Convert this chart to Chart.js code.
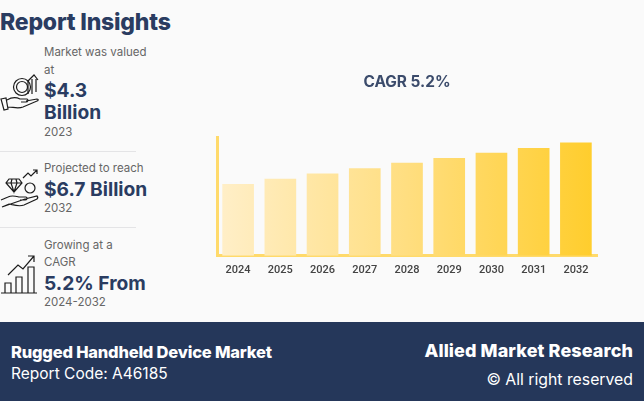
<!DOCTYPE html>
<html>
<head>
<meta charset="utf-8">
<script src="https://cdn.jsdelivr.net/npm/chart.js@4"></script>
<style>
  html, body { margin: 0; padding: 0; background: #fafafa; }
  #page { position: relative; width: 644px; height: 401px; overflow: hidden; font-family: Inter, sans-serif; }
  #page canvas, #icons { position: absolute; left: 0; top: 0; }
  .t { position: absolute; white-space: nowrap; transform: translateY(-50%); line-height: 1; }
  .small { left: 44px; font-size: 11.5px; color: #666; }
  .big { left: 44px; font-size: 19.2px; font-weight: 700; color: #2a3c61; }
  .rule { position: absolute; left: 0; width: 136px; height: 1px; background: #e4e4e6; }
  #footer { position: absolute; left: 0; top: 322px; width: 644px; height: 79px; background: #25375a; }
  .f { color: #fff; }
</style>
</head>
<body>
<div id="page">
  <div class="t" style="left:0;top:22px;font-size:23px;font-weight:800;letter-spacing:-0.2px;color:#2a3c61">Report Insights</div>

  <div class="t small" style="top:53px">Market was valued</div>
  <div class="t small" style="top:71px">at</div>
  <div class="t big" style="top:91px">$4.3</div>
  <div class="t big" style="top:113px">Billion</div>
  <div class="t small" style="top:133px">2023</div>
  <div class="rule" style="top:151px"></div>

  <div class="t small" style="top:169px">Projected to reach</div>
  <div class="t big" style="top:190px">$6.7 Billion</div>
  <div class="t small" style="top:209px">2032</div>
  <div class="rule" style="top:227px"></div>

  <div class="t small" style="top:246px">Growing at a</div>
  <div class="t small" style="top:263px">CAGR</div>
  <div class="t big" style="top:284px">5.2% From</div>
  <div class="t small" style="top:303px">2024-2032</div>

  <svg id="icons" width="644" height="401" fill="none" stroke="#1c1c1c" stroke-width="1.2">
    <!-- hand + coin -->
    <circle cx="22" cy="87" r="8.5"/><circle cx="22" cy="87" r="5.5"/>
    <path d="M28 94V80M32 94V79M36 92V79M28 81l6-6 4 5"/>
    <path d="M1 99l5-1 2 11-4 1zM7 100c5-3 9-3 13-1h7c2 1 1 3-1 3h-5M26 101l11-2c2 0 1 2 0 2l-14 6c-5 2-10 0-15 0"/>
    <!-- hand + diamond -->
    <path d="M9 179h10l3 4-8 9-8-9zM6 183h16M12 179l-1 4 3 9 3-9-1-4"/>
    <circle cx="30" cy="188" r="5"/>
    <path d="M23 178l5-5 3 3 6-6M33 170h4v4"/>
    <path d="M1 200l7-3c4-2 7-1 11 0h7c2 1 1 3-1 3h-5M25 199l12-3c1 1 1 2 0 3l-13 6c-5 2-10 0-15-1l-7 3z"/>
    <!-- bars + arrow -->
    <path d="M1 293h36M5 293v-10h6v10M16 293v-16h6v16M28 293v-26h6v26"/>
    <path d="M8 275l10-10 5 4 11-13M28 256h6v6"/>
  </svg>

  <div id="footer"></div>
  <div class="t f" style="left:11px;top:352px;font-size:16.5px;font-weight:800;letter-spacing:-0.2px">Rugged Handheld Device Market</div>
  <div class="t f" style="left:11px;top:374px;font-size:15.5px">Report Code: A46185</div>
  <div class="t f" style="right:11px;top:351px;font-size:18px;font-weight:800;letter-spacing:0.1px">Allied Market Research</div>
  <div class="t f" style="right:11px;top:380px;font-size:15.8px">© All right reserved</div>

  <canvas id="marketChart" width="644" height="401"></canvas>
</div>

<script>
// valores (USD bilhões, estimados)
const years = ['2024', '2025', '2026', '2027', '2028', '2029', '2030', '2031', '2032'];
const marketValues = [4.25, 4.56, 4.87, 5.18, 5.5, 5.79, 6.09, 6.38, 6.7];
const axisMax = 7;
const chartTitle = 'CAGR 5.2%';

function barGradient(context) {
    const area = context.chart.chartArea;
    if (!area) return '#FFDC78';
    const g = context.chart.ctx.createLinearGradient(area.left, 0, area.right, 0);
    g.addColorStop(0, '#FFEFC9');
    g.addColorStop(0.5, '#FFDE80');
    g.addColorStop(1, '#FFCD2B');
    return g;
}

const ctx = document.getElementById('marketChart').getContext('2d');
new Chart(ctx, {
    type: 'bar',
    data: {
        labels: years,
        datasets: [{
            data: marketValues,
            backgroundColor: barGradient,
            categoryPercentage: 0.75,
            barPercentage: 1
        }]
    },
    options: {
        responsive: false,
        animation: false,
        layout: { padding: { left: 217, right: 47, top: 73, bottom: 124 } },
        plugins: {
            legend: { display: false },
            tooltip: { enabled: false },
            title: {
                display: true,
                text: chartTitle,
                color: '#3b4b6b',
                font: { family: 'Inter', size: 15.4, weight: '700' },
                padding: { top: 0, bottom: 46 }
            }
        },
        scales: {
            x: {
                grid: { display: false },
                border: { color: '#FFDA6B', width: 3 },
                ticks: { color: '#444', font: { family: 'Roboto', size: 11, weight: '500' }, padding: 0, maxRotation: 0 }
            },
            y: {
                min: 0,
                max: axisMax,
                afterFit: function(scale) { scale.width = 0; },
                grid: { display: false },
                border: { color: '#FFDA6B', width: 3 },
                ticks: { display: false }
            }
        }
    }
});
</script>
</body>
</html>
